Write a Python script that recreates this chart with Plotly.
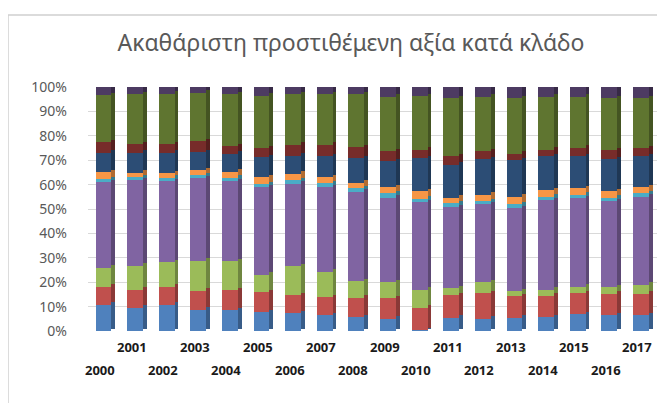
import numpy as np
import plotly.graph_objects as go

years = [str(y) for y in range(2000, 2018)]

# segment shares (%) per year, bottom to top
s1 = [10.8, 9.5, 10.8, 8.8, 8.5, 7.7, 7.3, 6.5, 5.7, 5.0, 0.4, 5.4, 5.1, 5.4, 5.7, 6.9, 6.4, 6.5]
s2 = [7.4, 7.4, 7.3, 7.7, 8.3, 8.2, 7.3, 7.4, 7.9, 8.5, 9.1, 9.2, 10.4, 8.8, 8.8, 8.5, 8.9, 8.8]
s3 = [7.8, 9.9, 10.0, 12.3, 11.8, 7.1, 12.0, 10.4, 6.7, 6.5, 7.4, 3.0, 4.5, 2.0, 2.4, 2.7, 2.7, 3.6]
s4 = [35.0, 35.0, 33.3, 33.9, 32.8, 36.0, 33.8, 34.7, 36.8, 34.7, 35.8, 33.1, 32.0, 34.2, 36.7, 36.3, 35.1, 36.2]
s5 = [1.2, 1.3, 1.4, 1.1, 1.4, 1.1, 1.4, 1.5, 1.5, 1.8, 1.6, 1.6, 1.1, 1.6, 1.4, 1.4, 1.6, 1.4]
s6 = [2.8, 1.8, 1.8, 2.0, 2.5, 3.0, 2.7, 2.6, 2.2, 2.5, 3.1, 2.4, 2.7, 3.0, 2.7, 2.7, 2.7, 2.5]
s7 = [8.0, 8.1, 8.4, 7.4, 7.3, 8.1, 7.4, 8.5, 10.0, 10.6, 13.5, 13.5, 14.7, 14.9, 13.9, 13.2, 13.1, 12.6]
s8 = [4.3, 3.6, 3.6, 4.5, 3.1, 3.8, 4.5, 4.8, 4.5, 4.0, 3.4, 3.4, 3.1, 2.7, 2.7, 3.4, 3.6, 3.4]
s9 = [19.3, 20.4, 20.7, 20.0, 21.3, 21.4, 20.6, 20.6, 21.7, 22.4, 21.9, 23.9, 22.4, 22.9, 21.7, 20.9, 21.2, 20.5]
s10 = [3.4, 3.0, 2.7, 2.3, 3.0, 3.6, 3.0, 3.0, 3.0, 4.0, 3.8, 4.5, 4.0, 4.5, 4.0, 4.0, 4.7, 4.5]

series = [s1, s2, s3, s4, s5, s6, s7, s8, s9, s10]
names = ["Κλάδος 1", "Κλάδος 2", "Κλάδος 3", "Κλάδος 4", "Κλάδος 5",
         "Κλάδος 6", "Κλάδος 7", "Κλάδος 8", "Κλάδος 9", "Κλάδος 10"]
colors = ["#4F81BD", "#C0504D", "#9BBB59", "#8064A2", "#4BACC6",
          "#F79646", "#2C4D75", "#772C2A", "#5F7530", "#4D3B62"]


def darken(hexc, f=0.72):
    h = hexc.lstrip("#")
    r, g, b = (int(h[i:i + 2], 16) for i in (0, 2, 4))
    return "rgb(%d,%d,%d)" % (r * f, g * f, b * f)


data = np.array(series, dtype=float)
data = data / data.sum(axis=0) * 100.0
bases = np.vstack([np.zeros(data.shape[1]), np.cumsum(data, axis=0)[:-1]])
xs = list(range(len(years)))

fig = go.Figure()
# side faces (darker), slightly raised for a 3D look
for k in range(len(series)):
    fig.add_trace(go.Bar(
        x=xs, y=data[k], base=bases[k] + 1.0, name=names[k],
        marker=dict(color=darken(colors[k]), line=dict(width=0)),
        width=0.12, offset=0.24, showlegend=False, cliponaxis=False,
        hoverinfo="skip"))
# front faces
for k in range(len(series)):
    fig.add_trace(go.Bar(
        x=xs, y=data[k], base=bases[k], name=names[k],
        marker=dict(color=colors[k], line=dict(width=0)),
        width=0.5, offset=-0.26, showlegend=False, cliponaxis=False))

annotations = []
for i, yr in enumerate(years):
    annotations.append(dict(
        x=i - 0.12, y=0, xref="x", yref="paper", text="<b>%s</b>" % yr,
        showarrow=False, yanchor="middle",
        yshift=-16 if i % 2 == 1 else -39,
        font=dict(family="Open Sans", size=13, color="#1a1a1a")))

fig.update_layout(
    width=657, height=395,
    margin=dict(l=80, r=8, t=79, b=72),
    paper_bgcolor="white", plot_bgcolor="white",
    barmode="overlay", bargap=0,
    showlegend=False,
    title=dict(text="Ακαθάριστη προστιθέμενη αξία κατά κλάδο",
               x=343 / 657, xref="container", xanchor="center",
               y=1 - 35 / 395, yref="container", yanchor="middle",
               font=dict(family="Noto Sans", size=23, color="#595959")),
    xaxis=dict(range=[-0.5, 17.5], showticklabels=False, showgrid=False,
               zeroline=False, showline=False, ticks=""),
    yaxis=dict(range=[0, 100], tickvals=list(range(0, 101, 10)),
               ticktext=["%d%%" % v for v in range(0, 101, 10)],
               showgrid=True, gridcolor="#d9d9d9", gridwidth=1,
               zeroline=False, showline=False, ticks="",
               ticklabelstandoff=20,
               tickfont=dict(family="Noto Sans", size=14, color="#595959")),
    annotations=annotations,
    shapes=[dict(type="rect", xref="paper", yref="paper",
                 x0=-0.1406, x1=1.03, y0=-0.32, y1=1.295,
                 line=dict(color="#d0d0d0", width=1.5), layer="below")],
)

fig.write_html("out.html")
